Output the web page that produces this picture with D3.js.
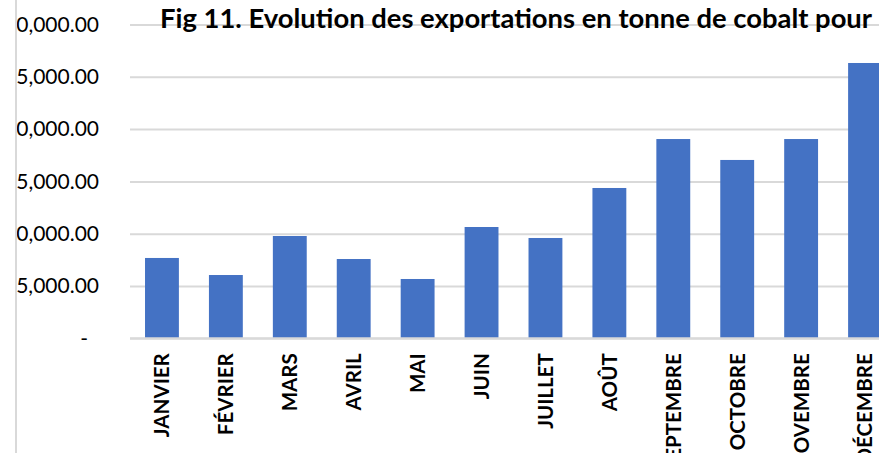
<html>
<head>
<meta charset="UTF-8">
<title>Fig 11</title>
<script src="https://d3js.org/d3.v7.min.js"></script>
<style>
  body { margin: 0; background: #fff; }
  text { font-family: Lato, Carlito, Calibri, sans-serif; fill: #000; }
</style>
</head>
<body>
<svg width="879" height="453"></svg>
<script>
var months = ["JANVIER", "FÉVRIER", "MARS", "AVRIL", "MAI", "JUIN", "JUILLET", "AOÛT", "SEPTEMBRE", "OCTOBRE", "NOVEMBRE", "DÉCEMBRE"];
var tonnes = [7680, 6050, 9780, 7580, 5670, 10640, 9590, 14370, 19050, 17050, 19050, 26320];
var yTicks = [0, 5000, 10000, 15000, 20000, 25000, 30000];
var title = "Fig 11. Evolution des exportations en tonne de cobalt pour";

var svg = d3.select("svg"),
    width = +svg.attr("width"),
    height = +svg.attr("height");

svg.append("rect").attr("width", width).attr("height", height).attr("fill", "#fff");

// chart area border, only the left edge is visible in the crop
svg.append("line")
    .attr("x1", 16).attr("x2", 16)
    .attr("y1", 0).attr("y2", height)
    .attr("stroke", "#d9d9d9")
    .attr("stroke-width", 2);

svg.append("clipPath").attr("id", "area")
  .append("rect").attr("x", 17).attr("y", 0).attr("width", width - 17).attr("height", height);

var g = svg.append("g").attr("clip-path", "url(#area)");

var x = d3.scaleBand()
    .domain(months)
    .range([130, 897])
    .paddingInner(0.47)
    .paddingOuter(0.235);

var y = d3.scaleLinear()
    .domain([0, 30000])
    .range([338.3, 24.5]);

var fmt = d3.format(",.2f");

// gridlines
g.append("g")
    .attr("class", "grid")
    .attr("transform", "translate(130,0)")
    .call(d3.axisLeft(y).tickValues(yTicks).tickSize(-(897 - 130)).tickFormat(""))
    .call(function(s) {
      s.select(".domain").remove();
      s.selectAll("line").attr("stroke", "#d9d9d9").attr("stroke-width", 2);
    });

// y labels
g.append("g")
    .attr("transform", "translate(99,0)")
    .call(d3.axisLeft(y).tickValues(yTicks).tickSize(0).tickPadding(0)
      .tickFormat(function(d) { return d === 0 ? "-" : fmt(d); }))
    .call(function(s) {
      s.select(".domain").remove();
      s.selectAll("text")
        .attr("font-size", "21px")
        .attr("fill", "#000")
        .attr("font-family", "Lato, sans-serif")
        .attr("dx", function(d) { return d === 0 ? -11 : 0; });
    });

// bars
g.append("g")
  .selectAll("rect")
  .data(tonnes)
  .enter().append("rect")
    .attr("x", function(d, i) { return x(months[i]); })
    .attr("width", x.bandwidth())
    .attr("y", function(d) { return y(d); })
    .attr("height", function(d) { return y(0) - y(d); })
    .attr("fill", "#4472c4");

// x axis
g.append("g")
    .attr("transform", "translate(0," + y(0) + ")")
    .call(d3.axisBottom(x).tickSize(0).tickPadding(0))
    .call(function(s) {
      s.select(".domain").attr("stroke", "#d9d9d9").attr("stroke-width", 2)
        .attr("d", "M130,0H897");
      s.selectAll("text")
        .attr("font-size", "20.5px")
        .attr("font-weight", "bold")
        .attr("font-family", "Lato, sans-serif")
        .attr("fill", "#000")
        .attr("text-anchor", "end")
        .attr("transform", "rotate(-90)")
        .attr("x", -15)
        .attr("y", 0)
        .attr("dy", "0.36em");
    });

g.append("text")
    .attr("x", 160)
    .attr("y", 28)
    .attr("font-size", "27.4px")
    .attr("font-weight", "bold")
    .text(title);
</script>
</body>
</html>
